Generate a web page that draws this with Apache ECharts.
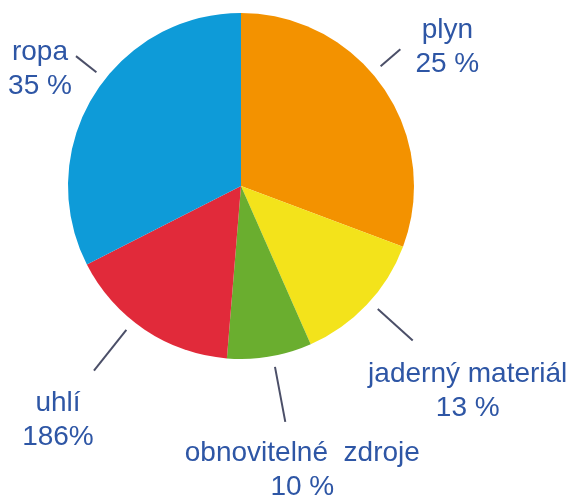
<!DOCTYPE html>
<html><head><meta charset="utf-8">
<script src="https://cdn.jsdelivr.net/npm/echarts@6/dist/echarts.min.js"></script>
<style>html,body{margin:0;padding:0;background:#fff}#c{width:574px;height:501px}</style>
</head><body><div id="c"></div>
<script>
// data (slice sizes as drawn) and label texts as printed
const categories = ['plyn', 'jaderný materiál', 'obnovitelné  zdroje', 'uhlí', 'ropa'];
const values = [30.7, 12.7, 7.9, 16.2, 32.5];
const valueLabels = ['25 %', '13 %', '10 %', '186%', '35 %'];

// styling / layout
const colors = ['#F39200', '#F3E31B', '#6AAE2F', '#E12A3A', '#0E9BD8'];
const CX = 241, CY = 186, R = 173, RL = 184;
const lineLen = [26, 47, 56, 52, 26];
const lineAngleShift = [-5.9, -1.4, -1.1, 4.7, 6.7];
const labelOffset = [[47, -2], [55, 51], [17, 48], [-36, 50], [-36, 13]];

const chart = echarts.init(document.getElementById('c'), null, {renderer: 'canvas'});
chart.setOption({
  animation: false,
  series: [
    {
      type: 'pie', center: [CX, CY], radius: [0, R], startAngle: 90, clockwise: true, silent: true,
      data: categories.map((n, i) => ({name: n, value: values[i], itemStyle: {color: colors[i]}})),
      label: {show: false}, labelLine: {show: false}, itemStyle: {borderWidth: 0}
    },
    {
      type: 'pie', center: [CX, CY], radius: [0, RL], startAngle: 90, clockwise: true, silent: true,
      avoidLabelOverlap: false,
      data: categories.map((n, i) => ({name: n, value: values[i], labelLine: {length: lineLen[i], length2: 0}})),
      itemStyle: {color: 'rgba(0,0,0,0)', borderWidth: 0},
      label: {
        show: true, position: 'outside',
        formatter: p => categories[p.dataIndex] + '\n' + valueLabels[p.dataIndex],
        color: '#2E56A5', fontFamily: '"Liberation Sans", Arial, sans-serif',
        fontSize: 28, lineHeight: 34, align: 'center'
      },
      labelLine: {show: true, lineStyle: {color: '#4B4F68', width: 2}},
      labelLayout: function (p) {
        const i = p.dataIndex;
        const s = p.labelLinePoints[0];
        const a0 = Math.atan2(s[0] - CX, -(s[1] - CY));
        const a = a0 + lineAngleShift[i] * Math.PI / 180;
        const r2 = RL + lineLen[i];
        const p1 = [CX + RL * Math.sin(a), CY - RL * Math.cos(a)];
        const p2 = [CX + r2 * Math.sin(a), CY - r2 * Math.cos(a)];
        return {
          x: p2[0] + labelOffset[i][0], y: p2[1] + labelOffset[i][1],
          align: 'center', verticalAlign: 'middle',
          labelLinePoints: [p1, p2]
        };
      }
    }
  ]
});
</script>
</body></html>
